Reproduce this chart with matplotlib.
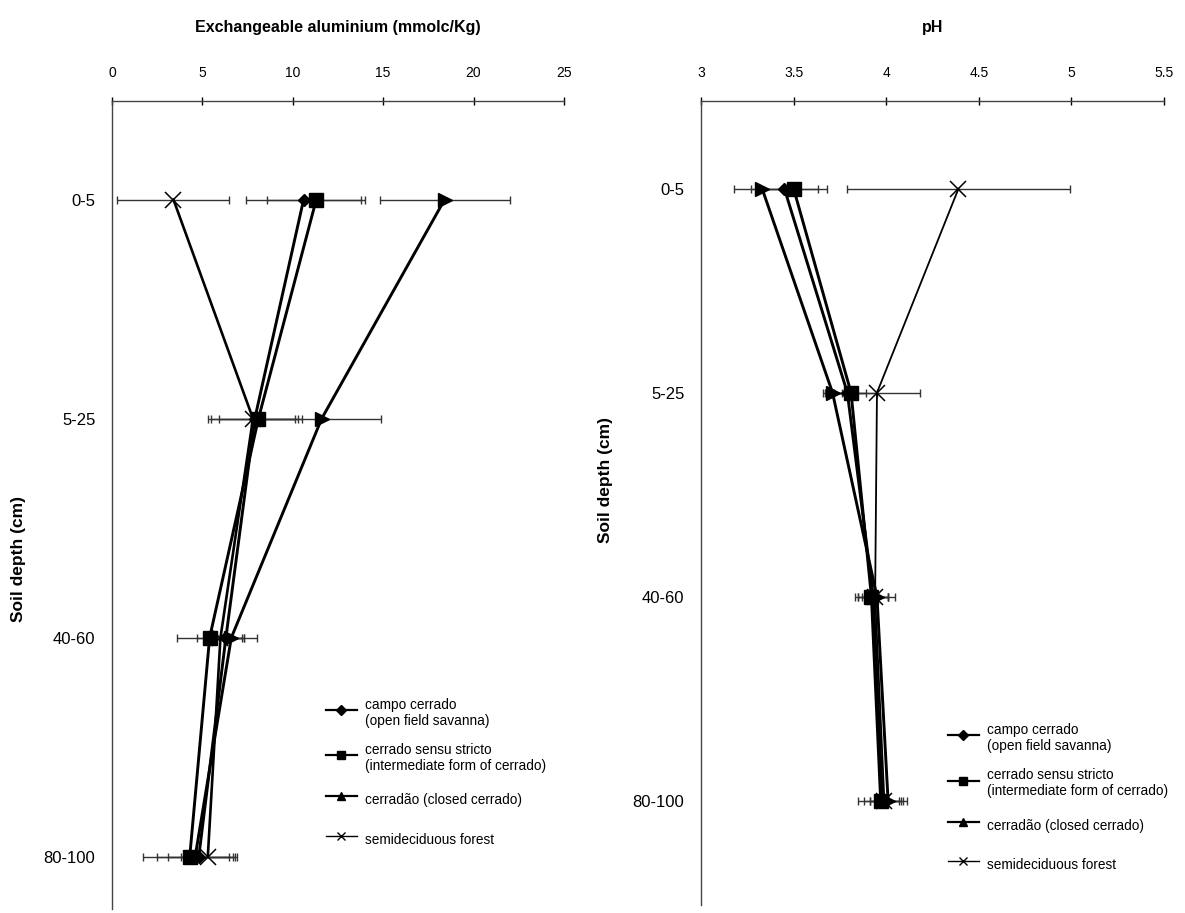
import numpy as np
import matplotlib
matplotlib.use("Agg")
import matplotlib.pyplot as plt
from matplotlib.lines import Line2D

plt.rcParams.update({
    "font.family": ["Liberation Sans", "DejaVu Sans"],
    "axes.linewidth": 1.0,
})

DEPTHS = ["0-5", "5-25", "40-60", "80-100"]

# exchangeable aluminium (mmolc/Kg), mean and error per depth
AL_CAMPO = [10.6, 7.9, 6.3, 4.8]
AL_CAMPO_ERR = [3.2, 2.6, 1.0, 1.7]
AL_SENSU = [11.3, 8.1, 5.4, 4.3]
AL_SENSU_ERR = [2.7, 2.2, 1.8, 2.6]
AL_CERRADAO = [18.4, 11.6, 6.6, 4.6]
AL_CERRADAO_ERR = [3.6, 3.3, 1.4, 2.1]
AL_FOREST = [3.4, 7.8, 6.0, 5.3]
AL_FOREST_ERR = [3.1, 2.3, 1.3, 1.5]

# pH, mean and error per depth
PH_CAMPO = [3.45, 3.79, 3.93, 3.98]
PH_CAMPO_ERR = [0.18, 0.10, 0.08, 0.10]
PH_SENSU = [3.50, 3.81, 3.92, 3.97]
PH_SENSU_ERR = [0.18, 0.14, 0.09, 0.12]
PH_CERRADAO = [3.33, 3.71, 3.95, 4.01]
PH_CERRADAO_ERR = [0.15, 0.05, 0.10, 0.10]
PH_FOREST = [4.39, 3.95, 3.94, 3.99]
PH_FOREST_ERR = [0.60, 0.23, 0.07, 0.08]

LABELS = ["campo cerrado\n(open field savanna)",
          "cerrado sensu stricto\n(intermediate form of cerrado)",
          "cerradão (closed cerrado)",
          "semideciduous forest"]

STY = [
    dict(marker="D", ms=6.5, lw=2.1),
    dict(marker="s", ms=10, lw=2.1),
    dict(marker=">", ms=10, lw=2.1),
    dict(marker="x", ms=12, lw=1.8, mew=1.1),
]
LEG_MARK = ["D", "s", "^", "x"]


def panel(ax, series, errs, title, xlim, xticks, xticklabels, ylim, ylab_xy, leg_anchor, xlw):
    y = np.arange(1, len(DEPTHS) + 1)
    for vals, err in zip(series, errs):
        ax.errorbar(vals, y, xerr=err, fmt="none", ecolor="#333333",
                    elinewidth=1.0, capsize=3, capthick=1.0, zorder=2)
    for k, (vals, st) in enumerate(zip(series, STY)):
        lw = xlw if k == 3 else st["lw"]
        ax.plot(vals, y, color="black", lw=lw, marker=st["marker"], ms=st["ms"],
                mew=st.get("mew", 1.0), mfc="black", mec="black", zorder=3)

    ax.set_xlim(*xlim)
    ax.set_ylim(*ylim)
    ax.xaxis.tick_top()
    ax.set_xticks(xticks)
    ax.set_xticklabels(xticklabels)
    ax.tick_params(axis="x", direction="inout", length=6, width=1.0, pad=12, labelsize=10)
    ax.set_yticks(y)
    ax.set_yticklabels(DEPTHS)
    ax.tick_params(axis="y", length=0, pad=12, labelsize=12)
    for s in ("right", "bottom"):
        ax.spines[s].set_visible(False)
    for s in ("left", "top"):
        ax.spines[s].set_color("#444444")

    ax.set_title(title, fontsize=11.5, fontweight="bold", pad=50)
    ax.set_ylabel("Soil depth (cm)", fontsize=12.5, fontweight="bold")
    ax.yaxis.set_label_coords(*ylab_xy)

    handles = [Line2D([], [], color="black", lw=(1.0 if m == "x" else 1.6),
                      marker=m, ms=6, mfc="black", mec="black")
               for m in LEG_MARK]
    handles[0].set_markersize(5)
    ax.legend(handles, LABELS, loc="upper left", bbox_to_anchor=leg_anchor,
              frameon=False, fontsize=9.8, handlelength=2.3, handletextpad=0.6,
              handleheight=2.4, labelspacing=1.1, borderpad=0, borderaxespad=0)


fig = plt.figure(figsize=(11.85, 9.13), dpi=100)
ax1 = fig.add_axes([0.0945, 0.004, 0.3814, 0.8854])
ax2 = fig.add_axes([0.5916, 0.009, 0.3907, 0.8804])

panel(ax1, [AL_CAMPO, AL_SENSU, AL_CERRADAO, AL_FOREST],
      [AL_CAMPO_ERR, AL_SENSU_ERR, AL_CERRADAO_ERR, AL_FOREST_ERR],
      "Exchangeable aluminium (mmolc/Kg)", (0, 25), [0, 5, 10, 15, 20, 25],
      ["0", "5", "10", "15", "20", "25"], (4.24, 0.55), (-0.19, 0.433),
      (0.473, 0.262), 1.9)

panel(ax2, [PH_CAMPO, PH_SENSU, PH_CERRADAO, PH_FOREST],
      [PH_CAMPO_ERR, PH_SENSU_ERR, PH_CERRADAO_ERR, PH_FOREST_ERR],
      "pH", (3, 5.5), [3, 3.5, 4, 4.5, 5, 5.5],
      ["3", "3.5", "4", "4.5", "5", "5.5"], (4.51, 0.57), (-0.19, 0.529),
      (0.533, 0.226), 1.3)

fig.savefig("out.png", dpi=100)
